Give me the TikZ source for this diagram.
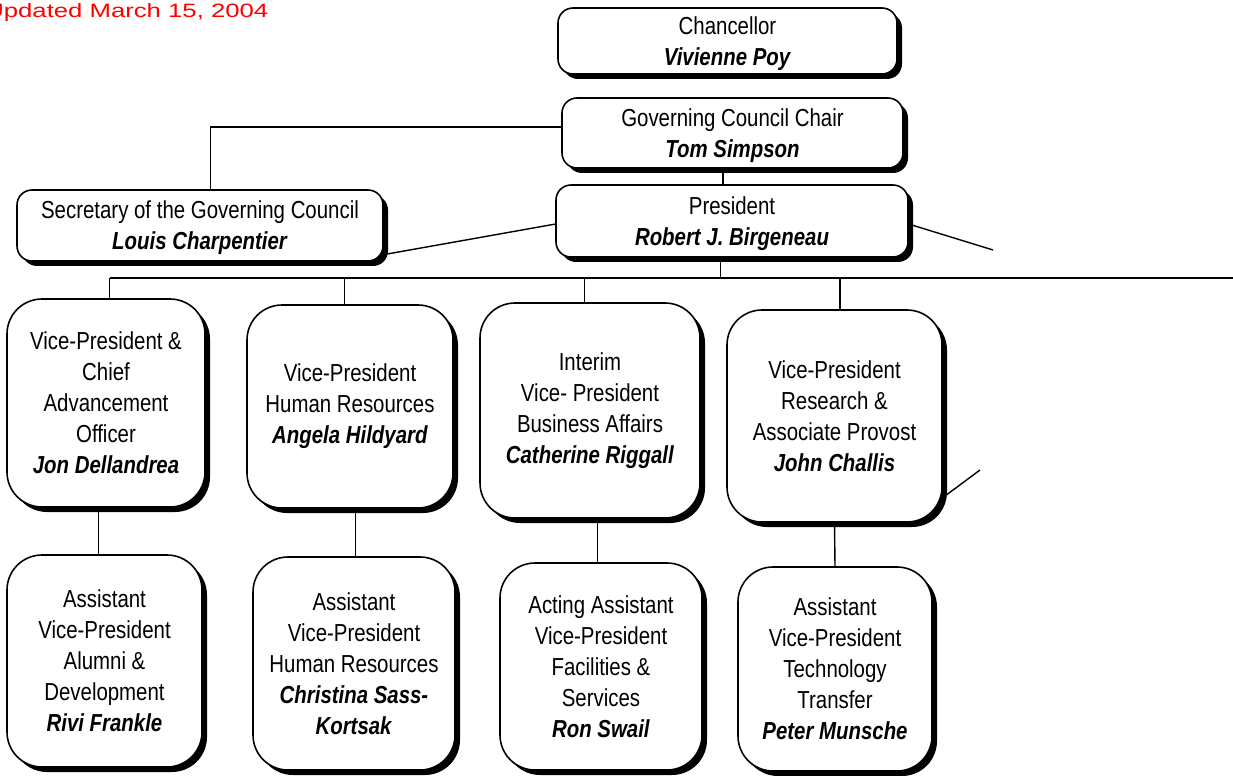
\documentclass[tikz,border=0pt]{standalone}
\usepackage{fontspec}
\setmainfont{Liberation Sans}[FakeStretch=0.83]
\newfontfamily\datefont{Liberation Sans}[FakeStretch=1.33]
\usetikzlibrary{shadows}
\newcommand{\officer}[1]{\textbf{\textit{#1}}}

\begin{document}
\begin{tikzpicture}[x=0.02cm,y=-0.02cm,
    boxsize/.style 2 args={minimum width=#1*0.02cm,minimum height=#2*0.02cm},
    post/.style={draw,line width=0.9pt,fill=white,align=center,inner sep=0pt,
      font=\fontsize{14}{17.6}\selectfont,
      drop shadow={shadow xshift=0.1cm,shadow yshift=-0.1cm,fill=black,opacity=1}},
    topbox/.style={post,rounded corners=0.3cm,text depth=0pt},
    vpbox/.style={post,rounded corners=0.7cm},
    link/.style={line width=0.8pt}]
    \useasboundingbox (0,0) rectangle (1233,776);
    \clip (0,0) rectangle (1233,776);
    \node [anchor=base west,inner sep=0pt,text=red,font=\datefont\fontsize{11}{13}\selectfont] (upd) at (-15,18) {Updated March 15, 2004};
    % top of the chart
    \node [topbox,boxsize={339}{66}] (chan) at (727.5,41) {Chancellor\\\officer{Vivienne Poy}};
    \node [topbox,boxsize={341}{70}] (gcc) at (732.5,133) {Governing Council Chair\\\officer{Tom Simpson}};
    \node [topbox,boxsize={352}{72}] (pres) at (732,221) {President\\\officer{Robert J. Birgeneau}};
    \node [topbox,boxsize={366}{71}] (sec) at (200,225.5) {Secretary of the Governing Council\\\officer{Louis Charpentier}};
    % vice-presidents
    \node [vpbox,boxsize={198}{208}] (vp1) at (106,403) {Vice-President \&\\Chief\\Advancement\\Officer\\\officer{Jon Dellandrea}};
    \node [vpbox,boxsize={206}{203}] (vp2) at (350,406.5) {Vice-President\\Human Resources\\\officer{Angela Hildyard}};
    \node [vpbox,boxsize={220}{215}] (vp3) at (590,410.5) {Interim\\Vice- President\\Business Affairs\\\officer{Catherine Riggall}};
    \node [vpbox,boxsize={215}{212}] (vp4) at (834.5,416) {Vice-President\\Research \&\\Associate Provost\\\officer{John Challis}};
    % assistant vice-presidents
    \node [vpbox,boxsize={195}{212}] (as1) at (104.5,661) {Assistant\\Vice-President\\Alumni \&\\Development\\\officer{Rivi Frankle}};
    \node [vpbox,boxsize={202}{213}] (as2) at (354,663.5) {Assistant\\Vice-President\\Human Resources\\\officer{Christina Sass-}\\\officer{Kortsak}};
    \node [vpbox,boxsize={202}{207}] (as3) at (601,666.5) {Acting Assistant\\Vice-President\\Facilities \&\\Services\\\officer{Ron Swail}};
    \node [vpbox,boxsize={194}{204}] (as4) at (835,669) {Assistant\\Vice-President\\Technology\\Transfer\\\officer{Peter Munsche}};
    \coordinate (busL) at (110,278);
    \coordinate (busR) at (1233,278);
    \coordinate (presR) at (993,250);
    \coordinate (vp4R) at (980,470);
    \draw [link] (gcc.178) -| (sec.74);
    \draw [link] (sec.-9) -- (pres.181);
    \draw [link] (pres.-1) -- (presR);
    \draw [link] (gcc.-105) -- (gcc.-105 |- pres.north);
    \draw [link] (pres.-107) -- (pres.-107 |- busL);
    \draw [link] (busL) -- (busR);
    \draw [link] (vp1.88 |- busL) -- (vp1.88);
    \draw [link] (vp2.93 |- busL) -- (vp2.93);
    \draw [link] (vp3.93 |- busL) -- (vp3.93);
    \draw [link] (vp4.87 |- busL) -- (vp4.87);
    \draw [link] (vp1.-94) -- (vp1.-94 |- as1.north);
    \draw [link] (vp2.-87) -- (vp2.-87 |- as2.north);
    \draw [link] (vp3.-86) -- (vp3.-86 |- as3.north);
    \draw [link] (vp4.south) -- (as4.north);
    \draw [link] (vp4.-37) -- (vp4R);
\end{tikzpicture}
\end{document}
